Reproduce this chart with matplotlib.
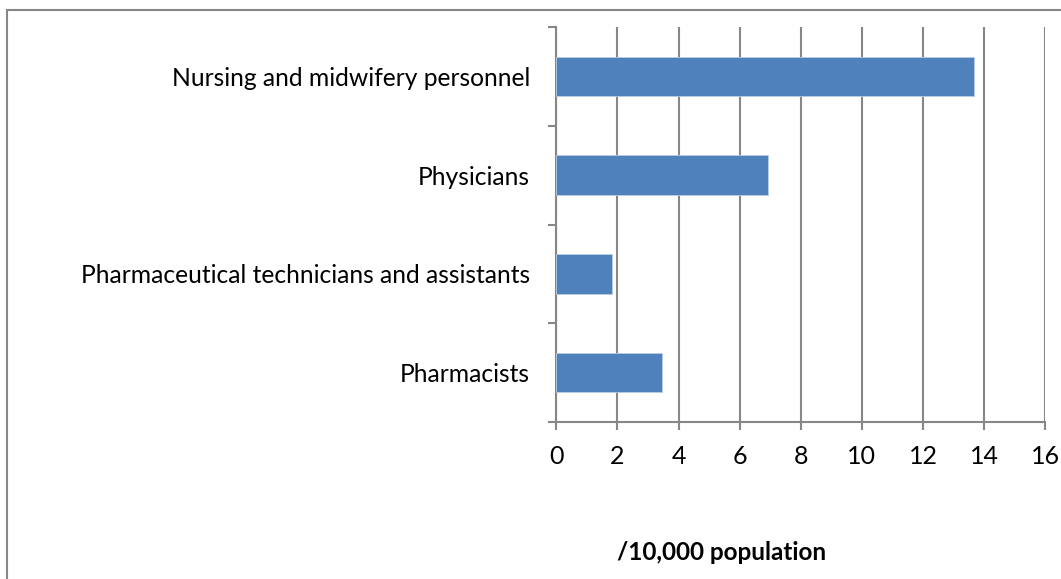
import numpy as np
import matplotlib
matplotlib.use('Agg')
import matplotlib.pyplot as plt
from matplotlib.patches import Rectangle

categories = ['Pharmacists', 'Pharmaceutical technicians and assistants', 'Physicians', 'Nursing and midwifery personnel']
values = [3.47, 1.83, 6.94, 13.68]
xticks = [0, 2, 4, 6, 8, 10, 12, 14, 16]

plt.rcParams['font.family'] = ['Lato', 'DejaVu Sans']
grey = '#878787'

fig = plt.figure(figsize=(10.61, 5.79), dpi=100)
ax = fig.add_axes([0.5243, 0.2717, 0.9852 - 0.5243, 0.9528 - 0.2717])

y = np.arange(len(categories))
ax.barh(y, values, height=0.4, color='#4F81BD', edgecolor='#B9CDE5', linewidth=0.6, zorder=3)

ax.set_xlim(0, 16)
ax.set_ylim(-0.5, len(categories) - 0.5)
ax.set_xticks(xticks)
ax.set_xticklabels([str(t) for t in xticks])
ax.set_yticks(y)
ax.set_yticklabels(categories)
ax.set_yticks(np.arange(-0.5, len(categories), 1), minor=True)

ax.grid(axis='x', color=grey, linewidth=1.5, zorder=0)
for s in ['top', 'right']:
    ax.spines[s].set_visible(False)
for s in ['left', 'bottom']:
    ax.spines[s].set_color(grey)
    ax.spines[s].set_linewidth(1.5)

ax.tick_params(axis='y', which='major', length=0, pad=19, labelsize=17.7)
ax.tick_params(axis='y', which='minor', length=6, width=1.5, color=grey, direction='out')
ax.tick_params(axis='x', length=6, width=1.5, color=grey, direction='out', pad=11, labelsize=18)

fig.text(722 / 1061, 1 - 553 / 579, '/10,000 population', fontsize=17.5, fontweight='bold',
         ha='center', va='center')

fig.patches.append(Rectangle((7 / 1061, -0.1), 1.2, 1 - 10 / 579 + 0.1, transform=fig.transFigure,
                             fill=False, edgecolor=grey, linewidth=1.5))

fig.savefig('out.png', dpi=100)
